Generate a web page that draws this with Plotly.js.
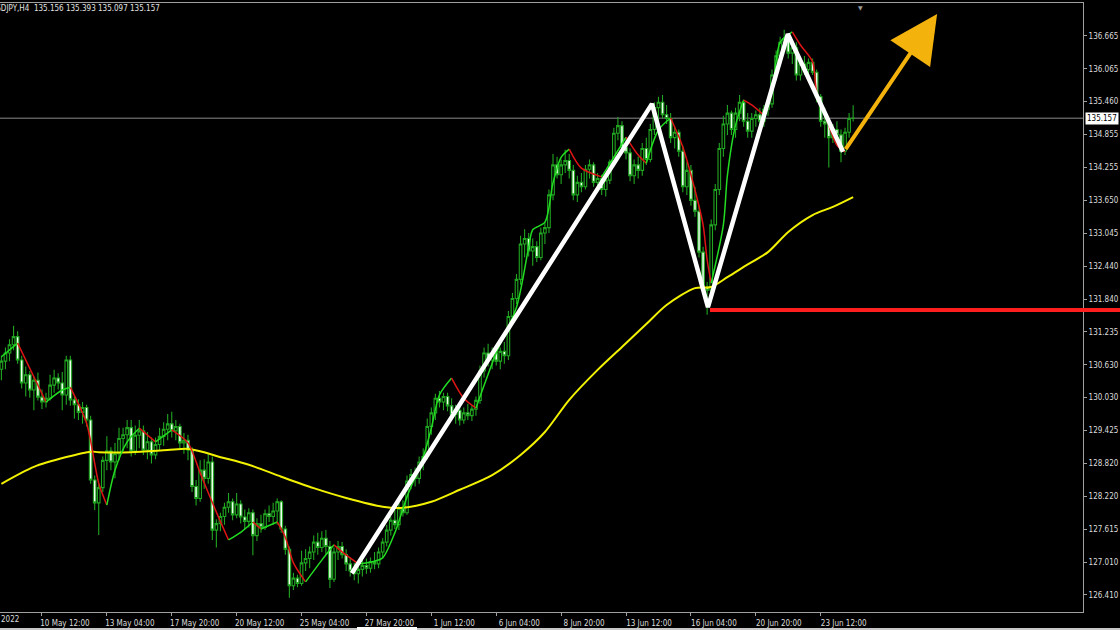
<!DOCTYPE html>
<html>
<head>
<meta charset="utf-8">
<script src="https://cdn.plot.ly/plotly-3.0.1.min.js"></script>
<style>html,body{margin:0;padding:0;background:#000;overflow:hidden}#chart{width:1120px;height:630px}</style>
</head>
<body>
<div id="chart"></div>
<script>
// ---- data (USDJPY, H4) ----
const symbolTitle = "USDJPY,H4  135.156 135.393 135.097 135.157";
const tickLabels = ["10 May 12:00","13 May 04:00","17 May 20:00","20 May 12:00","25 May 04:00","27 May 20:00","1 Jun 12:00","6 Jun 04:00","8 Jun 20:00","13 Jun 12:00","16 Jun 04:00","20 Jun 20:00","23 Jun 12:00"];
const firstLabel = "5 May 2022";
const priceTicks = [136.665,136.065,135.460,134.855,134.255,133.650,133.045,132.440,131.840,131.235,130.630,130.030,129.425,128.820,128.220,127.615,127.010,126.410];

const open = [
130.55,130.70,130.85,131.00,131.15,130.72,130.30,130.45,130.17,130.35,
130.04,129.95,130.02,130.26,130.39,130.30,130.08,130.72,129.99,129.90,
129.76,129.85,129.62,128.52,128.10,128.38,128.88,129.05,128.85,129.00,
129.28,129.35,129.48,129.05,129.34,129.42,129.07,129.22,128.98,129.17,
129.32,129.45,129.55,129.42,129.50,129.20,129.25,129.07,128.40,128.18,
128.70,128.55,128.85,127.60,127.72,127.85,128.02,128.12,127.88,128.08,
127.84,127.76,127.92,127.50,127.72,127.65,127.90,127.85,127.95,128.12,
127.62,127.25,126.58,126.72,126.62,127.00,127.08,127.20,127.38,127.28,
127.45,127.30,126.70,127.20,127.30,127.15,126.98,126.85,126.80,126.88,
126.95,126.90,127.02,126.98,127.20,127.38,127.60,127.78,127.70,128.00,
127.92,128.50,128.62,128.55,128.85,128.95,129.50,129.75,130.02,129.95,
130.05,129.88,129.72,129.80,129.62,129.75,129.70,129.82,129.98,130.52,
130.85,130.72,130.85,130.70,130.88,130.80,131.52,131.85,132.20,132.85,
132.95,132.72,132.80,132.60,133.05,133.15,133.75,134.30,134.12,134.30,
134.38,134.20,133.75,133.98,133.90,134.22,134.30,133.98,134.05,133.85,
134.02,134.35,134.88,135.02,134.62,134.52,134.10,134.30,134.20,134.60,
134.40,134.95,135.35,135.45,135.22,135.15,134.80,134.90,134.55,133.90,
134.20,133.65,133.45,132.70,132.05,132.00,133.20,133.85,134.60,135.05,
135.25,134.95,135.25,135.45,135.10,134.92,135.15,135.22,135.10,135.32,
135.42,135.95,136.30,136.55,136.62,136.35,136.45,135.95,136.15,136.05,
136.18,136.00,135.55,135.10,135.05,134.80,134.95,134.85,134.55,134.90,
135.156];
const high = [
130.80,130.95,131.10,131.35,131.25,130.80,130.60,130.52,130.42,130.49,
130.18,130.12,130.45,130.54,130.48,130.50,130.80,130.80,130.06,130.00,
129.95,129.90,129.70,128.60,128.45,128.95,129.32,129.12,129.20,129.48,
129.48,129.62,129.62,129.52,129.62,129.52,129.40,129.30,129.30,129.48,
129.58,129.73,129.77,129.62,129.55,129.38,129.35,129.12,128.52,128.88,
128.90,129.00,128.95,127.80,127.92,128.10,128.28,128.18,128.28,128.15,
127.98,128.00,127.98,127.82,127.88,127.98,128.05,128.10,128.18,128.15,
127.68,127.30,126.82,126.78,127.22,127.25,127.30,127.50,127.55,127.58,
127.60,127.40,127.28,127.40,127.38,127.25,127.10,127.00,126.95,127.05,
127.08,127.10,127.20,127.28,127.45,127.70,127.85,127.98,128.10,128.15,
128.60,128.72,128.75,128.95,129.10,129.65,129.85,130.10,130.15,130.12,
130.12,130.02,129.90,129.88,129.85,129.92,129.88,130.05,130.62,130.95,
131.02,130.95,130.95,130.95,131.05,131.62,131.95,132.30,133.00,133.12,
133.05,132.95,132.90,133.15,133.25,133.85,134.50,134.45,134.40,134.58,
134.50,134.30,134.10,134.15,134.30,134.40,134.35,134.15,134.12,134.10,
134.40,134.98,135.18,135.10,134.80,134.60,134.40,134.45,134.70,134.80,
135.05,135.45,135.55,135.58,135.40,135.25,135.00,134.95,134.65,134.35,
134.30,133.90,133.55,132.80,132.15,133.30,133.95,134.70,135.20,135.40,
135.30,135.35,135.58,135.50,135.25,135.25,135.30,135.35,135.40,135.50,
136.05,136.40,136.65,136.78,136.72,136.55,136.55,136.25,136.30,136.25,
136.25,136.05,135.60,135.35,135.15,135.05,135.10,134.95,134.98,135.25,
135.393];
const low = [
130.35,130.55,130.70,130.90,130.65,130.20,130.05,130.03,129.80,129.98,
129.82,129.85,129.98,130.12,130.18,129.80,129.90,129.88,129.65,129.62,
129.55,129.50,128.45,127.97,127.51,128.30,128.70,128.70,128.55,128.88,
129.05,129.10,128.95,128.98,129.10,128.98,128.90,128.82,128.90,129.05,
129.15,129.25,129.30,129.25,129.10,129.00,128.88,128.30,128.05,128.12,
128.36,128.45,127.42,127.28,127.58,127.70,127.92,127.78,127.82,127.72,
127.62,127.65,127.14,127.40,127.55,127.60,127.75,127.70,127.70,127.55,
127.15,126.36,126.50,126.55,126.58,126.85,126.90,127.05,127.15,127.20,
127.15,126.54,126.65,127.05,127.08,126.85,126.75,126.68,126.62,126.75,
126.80,126.82,126.88,126.90,127.10,127.30,127.50,127.62,127.60,127.85,
127.88,128.35,128.40,128.45,128.70,128.90,129.35,129.62,129.85,129.80,
129.78,129.65,129.55,129.52,129.55,129.62,129.60,129.70,129.92,130.40,
130.60,130.55,130.62,130.55,130.65,130.72,131.40,131.75,132.10,132.60,
132.62,132.45,132.52,132.55,132.85,133.05,133.65,134.05,133.95,134.15,
134.05,133.65,133.62,133.80,133.85,134.05,133.90,133.80,133.75,133.72,
133.95,134.30,134.75,134.55,134.40,134.00,133.95,134.05,134.10,134.30,
134.35,134.85,135.10,135.15,135.05,134.70,134.60,134.45,133.80,133.75,
133.55,133.35,132.60,131.95,131.55,131.90,133.10,133.75,134.45,134.85,
134.85,134.80,135.10,135.00,134.80,134.80,135.00,135.00,135.00,135.20,
135.35,135.85,136.20,136.40,136.25,136.15,135.85,135.85,135.95,135.90,
135.95,135.45,135.00,134.80,134.25,134.70,134.75,134.35,134.48,134.80,
135.097];
const close = [
130.70,130.85,131.00,131.15,130.72,130.30,130.45,130.17,130.35,130.04,
129.95,130.02,130.26,130.39,130.30,130.08,130.72,129.99,129.90,129.76,
129.85,129.62,128.52,128.10,128.38,128.88,129.05,128.85,129.00,129.28,
129.35,129.48,129.05,129.34,129.42,129.07,129.22,128.98,129.17,129.32,
129.45,129.55,129.42,129.50,129.20,129.25,129.07,128.40,128.18,128.70,
128.55,128.85,127.60,127.72,127.85,128.02,128.12,127.88,128.08,127.84,
127.76,127.92,127.50,127.72,127.65,127.90,127.85,127.95,128.12,127.62,
127.25,126.58,126.72,126.62,127.00,127.08,127.20,127.38,127.28,127.45,
127.30,126.70,127.20,127.30,127.15,126.98,126.85,126.80,126.88,126.95,
126.90,127.02,126.98,127.20,127.38,127.60,127.78,127.70,128.00,127.92,
128.50,128.62,128.55,128.85,128.95,129.50,129.75,130.02,129.95,130.05,
129.88,129.72,129.80,129.62,129.75,129.70,129.82,129.98,130.52,130.85,
130.72,130.85,130.70,130.88,130.80,131.52,131.85,132.20,132.85,132.95,
132.72,132.80,132.60,133.05,133.15,133.75,134.30,134.12,134.30,134.38,
134.20,133.75,133.98,133.90,134.22,134.30,133.98,134.05,133.85,134.02,
134.35,134.88,135.02,134.62,134.52,134.10,134.30,134.20,134.60,134.40,
134.95,135.35,135.45,135.22,135.15,134.80,134.90,134.55,133.90,134.20,
133.65,133.45,132.70,132.05,132.00,133.20,133.85,134.60,135.05,135.25,
134.95,135.25,135.45,135.10,134.92,135.15,135.22,135.10,135.32,135.42,
135.95,136.30,136.55,136.62,136.35,136.45,135.95,136.15,136.05,136.18,
136.00,135.55,135.10,135.05,134.80,134.95,134.85,134.55,134.90,135.15,
135.157];

// fast moving average (green rising / red falling), sampled at bars
const maBar = [0,4,11,15,17,21,24,26,28,31,34,38,42,46,49,53,56,59,62,64,68,70,72,75,79,82,84,88,92,94,97,100,104,106,108,111,114,117,122,127,130,131,134,136,138,140,143,148,151,154,157,159,162,165,168,171,173,174,175,178,179,181,183,185,188,190,192,195,197,200,201,204,206,208];
const maVal = [130.78,131.03,129.95,130.17,130.22,129.56,128.46,128.06,128.70,129.22,129.47,129.22,129.44,129.20,128.65,127.93,127.42,127.56,127.75,127.62,127.75,127.47,127.00,126.65,127.05,127.33,127.20,126.98,127.03,127.09,127.55,128.21,128.94,129.47,130.08,130.39,130.02,129.84,130.85,131.69,132.79,133.11,133.25,133.97,134.44,134.59,134.24,134.08,134.44,134.81,134.48,134.33,134.94,135.16,134.63,133.84,133.20,132.56,132.13,133.20,134.11,135.03,135.49,135.40,135.21,135.64,136.55,136.74,136.50,136.19,135.64,135.03,134.66,134.54];

// slow moving average (yellow), sampled at bars
const slowBar = [0,8,16,22,24,32,41,46,50,53,61,69,77,85,94,99,106,113,121,128,134,140,147,153,159,164,171,175,179,183,189,194,200,205,210];
const slowVal = [128.45,128.76,128.94,129.04,129.03,129.03,129.07,129.09,129.03,128.96,128.80,128.58,128.37,128.19,128.03,128.01,128.12,128.34,128.61,128.98,129.40,129.99,130.54,130.96,131.38,131.73,132.04,132.06,132.24,132.43,132.70,133.07,133.38,133.53,133.71];

// hand-drawn zigzag, support level and projection arrow
const zigBar = [86.4,160.4,174.2,193.9,207.5];
const zigVal = [126.81,135.42,131.69,136.70,134.54];
const supportLevel = 131.64;
const supportFromBar = 174.7;
const arrowFrom = [207.9, 134.56];
const arrowTo = [230.7, 137.07];

// ---- chart ----
const N = close.length;
const bars = close.map((_, i) => i);
const lastPrice = close[N - 1];
const FONT = 'Tahoma, "DejaVu Sans Condensed", "Liberation Sans", sans-serif';
const xRange = [-0.345, 266.67];
const yRange = [126.098, 137.27];
const tickBars = tickLabels.map((_, k) => 10 + 16 * k);

const traces = [];
traces.push({
  type: 'scatter', mode: 'lines', x: slowBar, y: slowVal,
  line: {color: '#f2f200', width: 2, shape: 'spline', smoothing: 0.8},
  hoverinfo: 'skip'
});
traces.push({
  type: 'candlestick', x: bars, open: open, high: high, low: low, close: close,
  increasing: {line: {color: '#21a621', width: 1.1}, fillcolor: '#000000'},
  decreasing: {line: {color: '#21a621', width: 1.1}, fillcolor: '#effff0'},
  whiskerwidth: 0, hoverinfo: 'skip'
});
// colour MA by direction
let groups = [], cur = null;
for (let k = 0; k < maBar.length - 1; k++) {
  const up = maVal[k + 1] >= maVal[k];
  if (!cur || cur.up !== up) { cur = {up: up, x: [maBar[k]], y: [maVal[k]]}; groups.push(cur); }
  cur.x.push(maBar[k + 1]); cur.y.push(maVal[k + 1]);
}
groups.forEach(g => traces.push({
  type: 'scatter', mode: 'lines', x: g.x, y: g.y,
  line: {color: g.up ? '#22dd22' : '#dd1515', width: 1.5, shape: 'spline', smoothing: 0.8},
  hoverinfo: 'skip'
}));
traces.push({
  type: 'scatter', mode: 'lines', x: zigBar, y: zigVal,
  line: {color: '#ffffff', width: 4.5}, hoverinfo: 'skip'
});

const paperX = px => px / 1083;
const layout = {
  width: 1120, height: 630,
  margin: {l: 0, r: 37, t: 3, b: 18, pad: 0},
  paper_bgcolor: '#000000', plot_bgcolor: '#000000',
  showlegend: false,
  boxgap: 0.2, boxgroupgap: 0.2,
  xaxis: {
    type: 'linear', range: xRange, fixedrange: true,
    showgrid: false, zeroline: false,
    showline: true, linecolor: '#a0a0a0', linewidth: 1, mirror: true,
    ticks: 'outside', ticklen: 3, tickcolor: '#a0a0a0',
    tickvals: tickBars, ticktext: tickLabels, ticklabelshift: 23, ticklabelstandoff: 0,
    tickfont: {family: FONT, size: 8, color: '#dcdcdc'},
    rangeslider: {visible: false}
  },
  yaxis: {
    side: 'right', range: yRange, fixedrange: true,
    showgrid: false, zeroline: false,
    showline: true, linecolor: '#a0a0a0', linewidth: 1,
    ticks: 'outside', ticklen: 3, tickcolor: '#a0a0a0',
    tickvals: priceTicks, ticktext: priceTicks.map(v => v.toFixed(3)),
    tickfont: {family: FONT, size: 8, color: '#dcdcdc'}
  },
  shapes: [
    {type: 'line', xref: 'paper', x0: 0, x1: 1, yref: 'y', y0: lastPrice, y1: lastPrice,
     line: {color: '#8a8a8a', width: 1}, layer: 'below'},
    {type: 'line', xref: 'x', x0: supportFromBar, x1: xRange[1], yref: 'y', y0: supportLevel, y1: supportLevel,
     line: {color: '#ff1e1e', width: 4}},
    {type: 'line', xref: 'paper', x0: 1, x1: 1120 / 1083, yref: 'y', y0: supportLevel, y1: supportLevel,
     line: {color: '#ff1e1e', width: 4}},
    {type: 'rect', xref: 'paper', x0: 0, x1: 1120 / 1083, yref: 'paper', y0: -16 / 609, y1: -18 / 609,
     fillcolor: '#c8c8c8', line: {width: 0}},
    {type: 'rect', xref: 'paper', x0: paperX(357), x1: paperX(417), yref: 'paper', y0: -15 / 609, y1: -18 / 609,
     fillcolor: '#ffffff', line: {width: 0}}
  ],
  annotations: [
    {xref: 'paper', yref: 'paper', x: paperX(-11), y: 1 - 6 / 609, xanchor: 'left', yanchor: 'middle',
     text: symbolTitle, showarrow: false, font: {family: FONT, size: 8, color: '#e0e0e0'}},
    {xref: 'paper', yref: 'paper', x: paperX(-25), y: -7 / 609, xanchor: 'left', yanchor: 'middle',
     text: firstLabel, showarrow: false, font: {family: FONT, size: 8, color: '#dcdcdc'}},
    {xref: 'paper', yref: 'y', x: 1, y: lastPrice, xanchor: 'left', yanchor: 'middle', xshift: 2,
     text: lastPrice.toFixed(3), showarrow: false, bgcolor: '#ffffff', borderpad: 1,
     font: {family: FONT, size: 8, color: '#000000'}},
    {xref: 'x', yref: 'y', axref: 'x', ayref: 'y', x: arrowTo[0], y: arrowTo[1], ax: arrowFrom[0], ay: arrowFrom[1],
     text: '', showarrow: true, arrowhead: 2, arrowsize: 2.4, arrowwidth: 4, arrowcolor: '#f4b20c'},
    {xref: 'x', yref: 'paper', x: 211.7, y: 1, xanchor: 'center', yanchor: 'top', yshift: 1,
     text: '\u25BC', showarrow: false, font: {family: 'DejaVu Sans', size: 6, color: '#9a9a9a'}}
  ]
};
Plotly.newPlot('chart', traces, layout, {displayModeBar: false, staticPlot: true});
</script>
</body>
</html>
